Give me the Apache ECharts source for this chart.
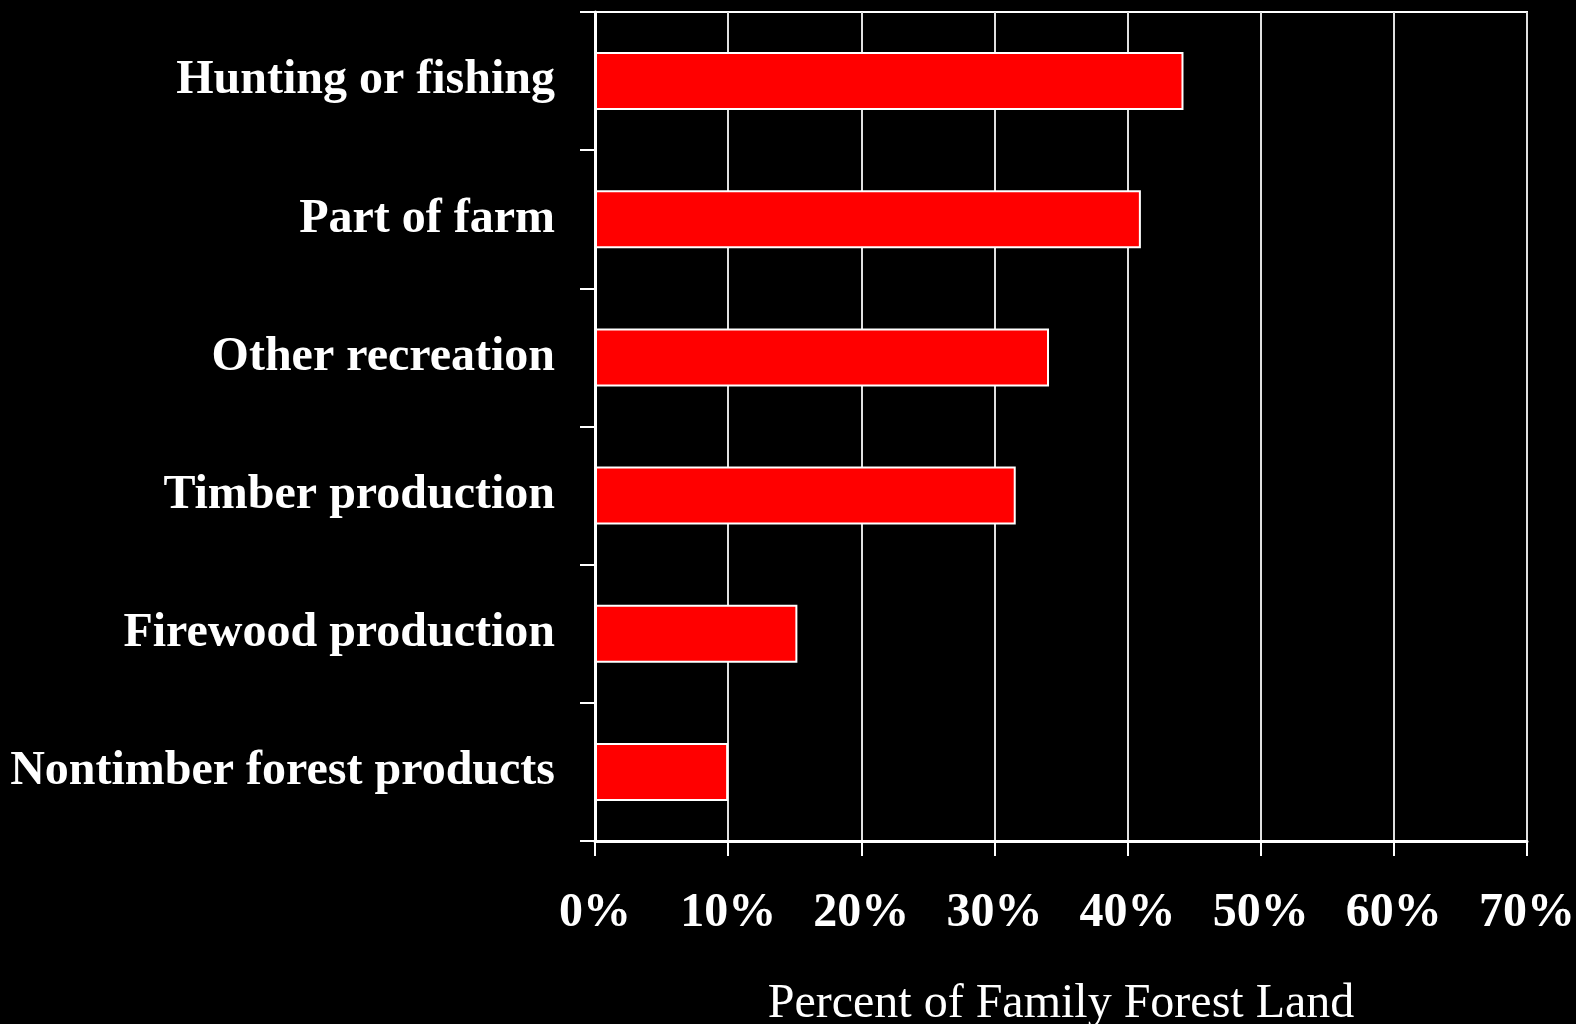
<!DOCTYPE html>
<html>
<head>
<meta charset="utf-8">
<script src="https://cdn.jsdelivr.net/npm/echarts@6/dist/echarts.min.js"></script>
<style>
  html, body { margin: 0; padding: 0; background: #000; }
  #chart { width: 1576px; height: 1024px; }
</style>
</head>
<body>
<div id="chart"></div>
<script>
// Reasons for owning family forest land (top to bottom)
const categories = [
  'Hunting or fishing',
  'Part of farm',
  'Other recreation',
  'Timber production',
  'Firewood production',
  'Nontimber forest products'
];
// Percent of family forest land for each reason
const percents = [44.2, 41.0, 34.1, 31.6, 15.2, 10.0];
// Horizontal axis range and step (percent)
const xMin = 0, xMax = 70, xStep = 10;
const xAxisTitle = 'Percent of Family Forest Land';

const serif = '"Liberation Serif", "Times New Roman", serif';

const chart = echarts.init(document.getElementById('chart'));
chart.setOption({
  backgroundColor: '#000',
  animation: false,
  grid: {
    left: 595, right: 49, top: 12, bottom: 183,
    containLabel: false,
    outerBoundsMode: 'none',
    show: true,
    borderColor: '#fff',
    borderWidth: 2,
    backgroundColor: 'transparent'
  },
  xAxis: {
    type: 'value',
    min: xMin, max: xMax, interval: xStep,
    name: xAxisTitle,
    nameLocation: 'middle',
    nameGap: 139,
    nameTextStyle: { color: '#fff', fontFamily: serif, fontSize: 48 },
    axisLine: { show: true, lineStyle: { color: '#fff', width: 3 } },
    axisTick: { show: true, length: 15, lineStyle: { color: '#fff', width: 2 } },
    axisLabel: {
      color: '#fff', fontFamily: serif, fontWeight: 'bold', fontSize: 48,
      margin: 49,
      formatter: v => v + '%'
    },
    splitLine: { show: true, lineStyle: { color: '#e0e0e0', width: 2 } }
  },
  yAxis: {
    type: 'category',
    data: categories,
    inverse: true,
    axisLine: { show: true, lineStyle: { color: '#fff', width: 3 } },
    axisTick: { show: true, length: 15, lineStyle: { color: '#fff', width: 2 } },
    axisLabel: {
      color: '#fff', fontFamily: serif, fontWeight: 'bold', fontSize: 48,
      margin: 40,
      padding: [10, 0, 0, 0]
    },
    splitLine: { show: false }
  },
  series: [{
    type: 'bar',
    data: percents,
    barCategoryGap: '58%',
    itemStyle: { color: '#ff0000', borderColor: '#fff', borderWidth: 2 }
  }]
});
</script>
</body>
</html>
